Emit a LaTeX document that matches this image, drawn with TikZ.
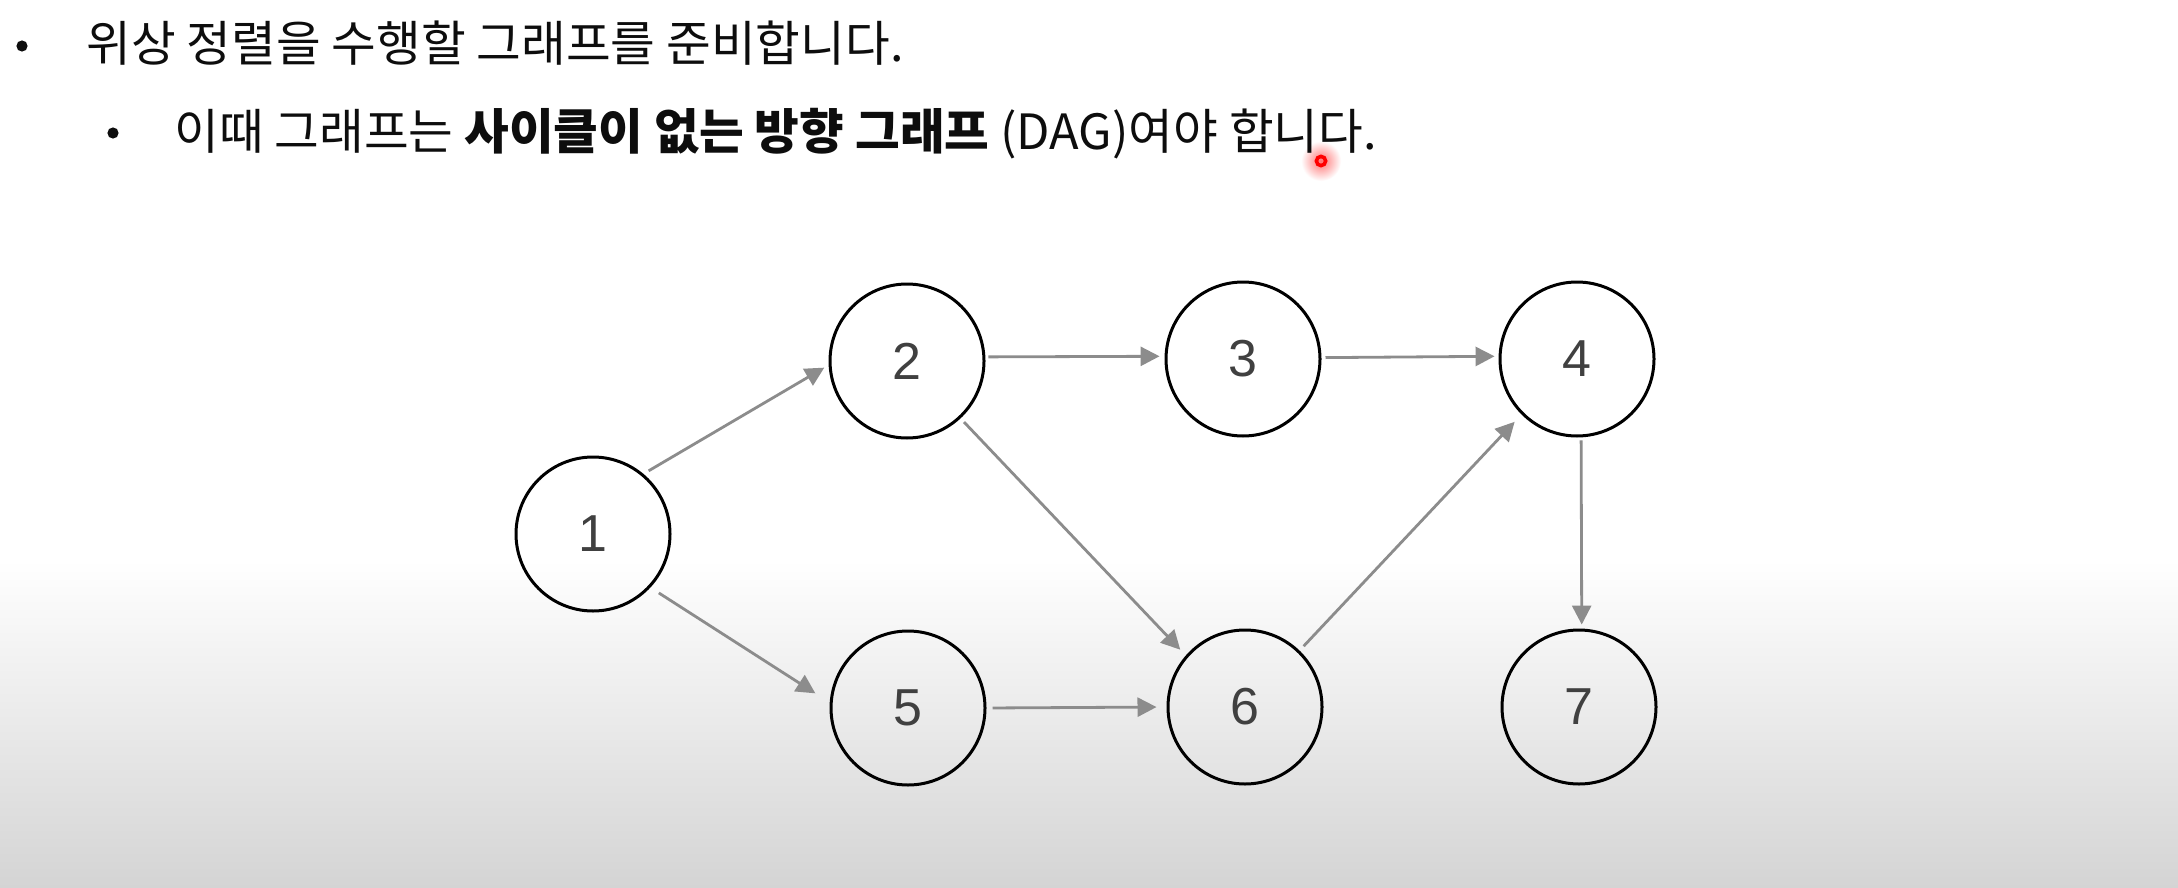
\documentclass[tikz,border=0pt]{standalone}
\usepackage{fontspec}
\usepackage{xcolor}
\usetikzlibrary{arrows.meta}

\newfontfamily\korfont{Noto Sans CJK KR}
\newfontfamily\numfont{Liberation Sans}
\definecolor{fondgris}{RGB}{212,212,212}

\begin{document}
\begin{tikzpicture}[x=0.5pt, y=-0.5pt,
    sommet/.style={circle, draw=black, line width=1.5pt, minimum size=77pt, inner sep=0pt,
        font=\numfont\fontsize{26}{26}\selectfont, text=black!75},
    arc/.style={-{Triangle[length=9.5pt, width=9.5pt]}, line width=1.4pt, draw=black!45, fill=black!45},
    texte/.style={anchor=base west, inner sep=0pt, font=\korfont\fontsize{24.3}{28}\selectfont, text=black!95},
    puce/.style={fill=black!95}]

    % Fond de la diapositive (blanc puis dégradé gris en bas)
    \useasboundingbox (0,0) rectangle (2178,888);
    \fill[white] (0,0) rectangle (2178,888);
    \shade[top color=white, bottom color=fondgris] (0,560) rectangle (2178,888);

    % Pointeur laser
    \shade[inner color=red!55, outer color=white] (1321,161) circle (10pt);
    \draw[red, line width=1.8pt] (1321,161) circle (2.3pt);

    % --- Texte ---
    \fill[puce] (22,46) circle (2.8pt);
    \node[texte] (ligneA) at (86,62) {위상 정렬을 수행할 그래프를 준비합니다.};
    \fill[puce] (113,133) circle (2.8pt);
    \node[texte] (ligneB) at (174,149) {이때 그래프는 {\bfseries 사이클이 없는 방향 그래프} (DAG)여야 합니다.};

    % --- Sommets du graphe ---
    \node[sommet] (n1) at (593,534) {1};
    \node[sommet] (n2) at (907,361) {2};
    \node[sommet] (n3) at (1243,359) {3};
    \node[sommet] (n4) at (1577,359) {4};
    \node[sommet] (n5) at (908,708) {5};
    \node[sommet] (n6) at (1245,707) {6};
    \node[sommet] (n7) at (1579,707) {7};

    % --- Arcs orientés ---
    \draw[arc, shorten <=3pt, shorten >=2.5pt] (n1.50) -- (n2.183);
    \draw[arc, shorten <=5pt, shorten >=8.5pt] (n1.317) -- (n5.176);
    \draw[arc, shorten <=1.5pt, shorten >=2.5pt] (n2.3) -- (n3.178.6);
    \draw[arc, shorten <=2.5pt, shorten >=4pt] (n2.313) -- (n6.139);
    \draw[arc, shorten <=2pt, shorten >=2pt] (n3.1.4) -- (n4.178.6);
    \draw[arc, shorten <=3pt, shorten >=5pt] (n6.46) -- (n4.225.5);
    \draw[arc, shorten <=1.5pt, shorten >=2pt] (n4.273) -- (n7.88.6);
    \draw[arc, shorten <=3pt, shorten >=5pt] (n5.0) -- (n6.180);

\end{tikzpicture}
\end{document}
